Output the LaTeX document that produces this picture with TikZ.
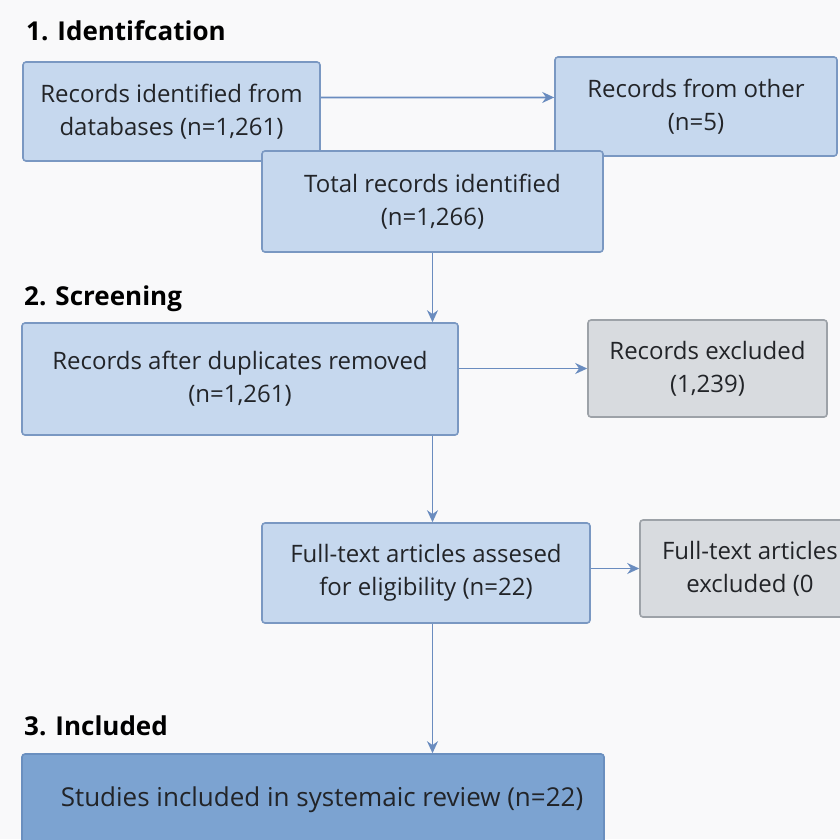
\documentclass[tikz,border=0pt]{standalone}
\usepackage{fontspec}
\setmainfont{Open Sans}
\usetikzlibrary{arrows.meta,calc}
\definecolor{bg}{HTML}{F9F9FA}
\definecolor{bluefill}{HTML}{C6D8EE}
\definecolor{blueline}{HTML}{7A98C2}
\definecolor{grayfill}{HTML}{D8DBDF}
\definecolor{grayline}{HTML}{9DA2A8}
\definecolor{darkfill}{HTML}{7CA3D1}
\definecolor{darkline}{HTML}{6A8FBF}
\definecolor{arrowc}{HTML}{6A8CBF}
\definecolor{txt}{HTML}{222428}
\tikzset{
  boxbase/.style={rounded corners=3pt, line width=1.6pt, align=center, text=txt,
    inner sep=0pt, font=\fontsize{24}{33}\selectfont},
  bluebox/.style={boxbase, fill=bluefill, draw=blueline},
  graybox/.style={boxbase, fill=grayfill, draw=grayline},
  darkbox/.style={boxbase, fill=darkfill, draw=darkline, font=\fontsize{26}{33}\selectfont},
  heading/.style={anchor=base west, inner sep=0pt, text=black, font=\bfseries\fontsize{26}{30}\selectfont},
  arr/.style={draw=arrowc, line width=1.7pt, -{Stealth[length=12pt,width=11pt]}}
}
\begin{document}
\begin{tikzpicture}[x=1pt,y=-1pt]
\fill[bg] (0,0) rectangle (840,839);
\clip (0,0) rectangle (840,839);
\useasboundingbox (0,0) rectangle (840,839);

\node[heading] (h1) at (26,40) {1. Identifcation};
\node[heading] (h2) at (24,305) {2. Screening};
\node[heading] (h3) at (24,735) {3. Included};

\node[bluebox, minimum width=297pt, minimum height=99pt] (A) at (171.5,111.5) {Records identified from\\databases (n=1,261)};
\node[bluebox, minimum width=282pt, minimum height=99pt] (B) at (696,106.5) {Records from other\\(n=5)};
\node[bluebox, minimum width=341pt, minimum height=101pt] (C) at (432.5,201.5) {Total records identified\\(n=1,266)};

\node[bluebox, minimum width=436pt, minimum height=112pt] (D) at (240,379) {Records after duplicates removed\\(n=1,261)};
\node[graybox, minimum width=239pt, minimum height=97pt] (E) at (707.5,368.5) {Records excluded\\(1,239)};

\node[bluebox, minimum width=328pt, minimum height=100pt] (F) at (426,573) {Full-text articles assesed\\for eligibility (n=22)};
\node[graybox, minimum width=220pt, minimum height=97pt] (G) at (750,568.5) {Full-text articles\\excluded (0};

\node[darkbox, minimum width=582pt, minimum height=92pt] (H) at (313,800) {\hspace*{18pt}Studies included in systemaic review (n=22)};

\draw[arr] ($(A.north east)!.36!(A.south east)$) -- ($(B.north west)!.41!(B.south west)$);
\draw[arr] (C.south) -- (C.south |- D.north);
\draw[arr] (D.east |- E.west) -- (E.west);
\draw[arr] (C.south |- D.south) -- (C.south |- F.north);
\draw[arr] (F.east |- G.west) -- (G.west);
\draw[arr] (C.south |- F.south) -- (C.south |- H.north);
\end{tikzpicture}
\end{document}
